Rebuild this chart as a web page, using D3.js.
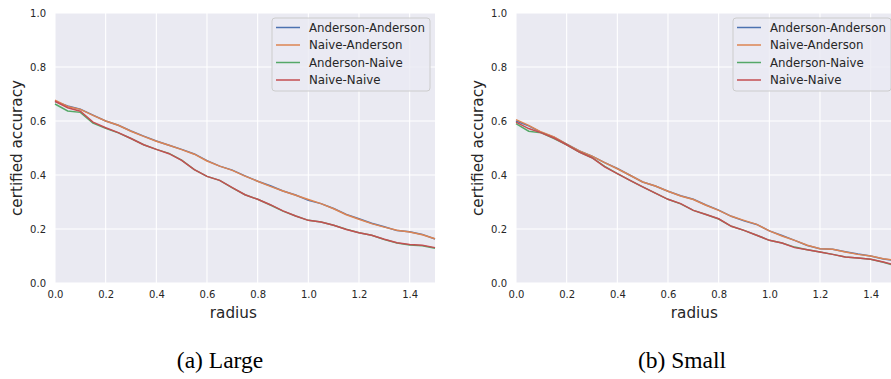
<!DOCTYPE html>
<html>
<head>
<meta charset="utf-8">
<script src="https://cdn.jsdelivr.net/npm/d3@7"></script>
<style>
  body { margin: 0; background: #fff; }
  svg { display: block; }
</style>
</head>
<body>
<svg width="891" height="379"></svg>
<script>
// radius grid the curves were read at
var radius = [0, 0.05, 0.1, 0.15, 0.2, 0.25, 0.3, 0.35, 0.4, 0.45, 0.5, 0.55, 0.6, 0.65, 0.7, 0.75,
  0.8, 0.85, 0.9, 0.95, 1.0, 1.05, 1.1, 1.15, 1.2, 1.25, 1.3, 1.35, 1.4, 1.45, 1.5];

var series_names = ["Anderson-Anderson", "Naive-Anderson", "Anderson-Naive", "Naive-Naive"];
var series_colors = ["#4c72b0", "#dd8452", "#55a868", "#c44e52"];

// (a) Large
var large_aa = [0.672, 0.656, 0.644, 0.622, 0.600, 0.584, 0.563, 0.544, 0.526, 0.510, 0.495, 0.478, 0.453, 0.433, 0.418, 0.397,
  0.377, 0.360, 0.341, 0.326, 0.306, 0.294, 0.276, 0.254, 0.238, 0.221, 0.208, 0.194, 0.190, 0.180, 0.163];
var large_na = [0.677, 0.654, 0.643, 0.621, 0.600, 0.584, 0.562, 0.543, 0.525, 0.510, 0.494, 0.477, 0.452, 0.433, 0.417, 0.396,
  0.377, 0.358, 0.341, 0.325, 0.309, 0.294, 0.275, 0.253, 0.236, 0.220, 0.207, 0.195, 0.189, 0.179, 0.164];
var large_an = [0.663, 0.637, 0.632, 0.592, 0.573, 0.556, 0.535, 0.512, 0.495, 0.480, 0.455, 0.420, 0.395, 0.380, 0.352, 0.327,
  0.310, 0.289, 0.266, 0.248, 0.232, 0.226, 0.214, 0.199, 0.186, 0.177, 0.161, 0.148, 0.141, 0.138, 0.129];
var large_nn = [0.673, 0.649, 0.636, 0.596, 0.575, 0.557, 0.535, 0.512, 0.495, 0.479, 0.454, 0.420, 0.395, 0.380, 0.353, 0.327,
  0.310, 0.290, 0.267, 0.248, 0.232, 0.226, 0.214, 0.198, 0.186, 0.177, 0.162, 0.149, 0.143, 0.140, 0.131];

// (b) Small
var small_aa = [0.600, 0.582, 0.558, 0.540, 0.514, 0.489, 0.470, 0.446, 0.424, 0.399, 0.374, 0.359, 0.340, 0.323, 0.310, 0.289,
  0.270, 0.247, 0.230, 0.217, 0.193, 0.176, 0.158, 0.139, 0.127, 0.125, 0.116, 0.107, 0.100, 0.089, 0.082];
var small_na = [0.605, 0.584, 0.559, 0.541, 0.514, 0.489, 0.470, 0.446, 0.423, 0.399, 0.374, 0.359, 0.340, 0.322, 0.309, 0.288,
  0.269, 0.247, 0.232, 0.217, 0.193, 0.174, 0.158, 0.140, 0.127, 0.125, 0.115, 0.106, 0.100, 0.090, 0.084];
var small_an = [0.590, 0.562, 0.556, 0.535, 0.512, 0.485, 0.464, 0.432, 0.405, 0.380, 0.356, 0.333, 0.310, 0.293, 0.269, 0.254,
  0.237, 0.210, 0.195, 0.177, 0.158, 0.148, 0.133, 0.123, 0.115, 0.106, 0.096, 0.093, 0.088, 0.077, 0.063];
var small_nn = [0.596, 0.572, 0.556, 0.537, 0.512, 0.485, 0.464, 0.430, 0.405, 0.380, 0.356, 0.333, 0.310, 0.294, 0.269, 0.254,
  0.238, 0.210, 0.195, 0.177, 0.158, 0.148, 0.131, 0.123, 0.115, 0.106, 0.096, 0.093, 0.088, 0.078, 0.065];

var x_ticks = [0, 0.2, 0.4, 0.6, 0.8, 1.0, 1.2, 1.4];
var y_ticks = [0, 0.2, 0.4, 0.6, 0.8, 1.0];

var panels = [
  { left: 55, caption: "(a) Large", capX: 220, series: [large_aa, large_na, large_an, large_nn] },
  { left: 516, caption: "(b) Small", capX: 682, series: [small_aa, small_na, small_an, small_nn] }
];

var svg = d3.select("svg");
var plotW = 380, plotTop = 13, plotH = 270;
var tickFont = "DejaVu Sans, sans-serif";

panels.forEach(function (p) {
  var g = svg.append("g").attr("transform", "translate(" + p.left + "," + plotTop + ")");
  var x = d3.scaleLinear().domain([0, 1.5]).range([0, plotW]);
  var y = d3.scaleLinear().domain([0, 1]).range([plotH, 0]);

  g.append("rect").attr("width", plotW).attr("height", plotH).attr("fill", "#eaeaf2");

  g.selectAll(".vgrid").data(x_ticks).enter().append("line")
    .attr("x1", x).attr("x2", x).attr("y1", 0).attr("y2", plotH)
    .attr("stroke", "#fff").attr("stroke-width", 1.1);
  g.selectAll(".hgrid").data(y_ticks).enter().append("line")
    .attr("x1", 0).attr("x2", plotW).attr("y1", y).attr("y2", y)
    .attr("stroke", "#fff").attr("stroke-width", 1.1);

  var xAxis = g.append("g").attr("transform", "translate(0," + plotH + ")")
    .call(d3.axisBottom(x).tickValues(x_ticks).tickFormat(d3.format(".1f")).tickSize(0).tickPadding(8));
  var yAxis = g.append("g")
    .call(d3.axisLeft(y).tickValues(y_ticks).tickFormat(d3.format(".1f")).tickSize(0).tickPadding(9));
  [xAxis, yAxis].forEach(function (a) {
    a.select(".domain").remove();
    a.selectAll("text").attr("font-family", tickFont).attr("font-size", 10).attr("fill", "#262626");
  });

  var line = d3.line().x(function (d, i) { return x(radius[i]); }).y(function (d) { return y(d); });
  p.series.forEach(function (s, k) {
    g.append("path").datum(s).attr("d", line).attr("fill", "none")
      .attr("stroke", series_colors[k]).attr("stroke-width", 1.5);
  });

  g.append("text").attr("x", x(0.7) + 1).attr("y", 305).attr("text-anchor", "middle")
    .attr("font-family", tickFont).attr("font-size", 15.2).attr("fill", "#262626").text("radius");
  g.append("text").attr("transform", "translate(-33," + (plotH / 2) + ") rotate(-90)")
    .attr("text-anchor", "middle").attr("font-family", tickFont).attr("font-size", 15.2)
    .attr("fill", "#262626").text("certified accuracy");

  // legend
  var lg = g.append("g").attr("transform", "translate(" + (plotW - 163) + ",5)");
  lg.append("rect").attr("width", 158).attr("height", 73).attr("rx", 3)
    .attr("fill", "#eaeaf2").attr("fill-opacity", 0.8).attr("stroke", "#cccccc").attr("stroke-width", 1);
  series_names.forEach(function (name, k) {
    var yy = 9.5 + k * 17.5;
    lg.append("line").attr("x1", 4).attr("x2", 28).attr("y1", yy).attr("y2", yy)
      .attr("stroke", series_colors[k]).attr("stroke-width", 1.5);
    lg.append("text").attr("x", 37).attr("y", yy + 4).attr("font-family", tickFont)
      .attr("font-size", 11.8).attr("fill", "#262626").text(name);
  });

  svg.append("text").attr("x", p.capX).attr("y", 368).attr("text-anchor", "middle")
    .attr("font-family", "Liberation Serif, Times New Roman, serif").attr("font-size", 23.5)
    .attr("fill", "#000").text(p.caption);
});
</script>
</body>
</html>
